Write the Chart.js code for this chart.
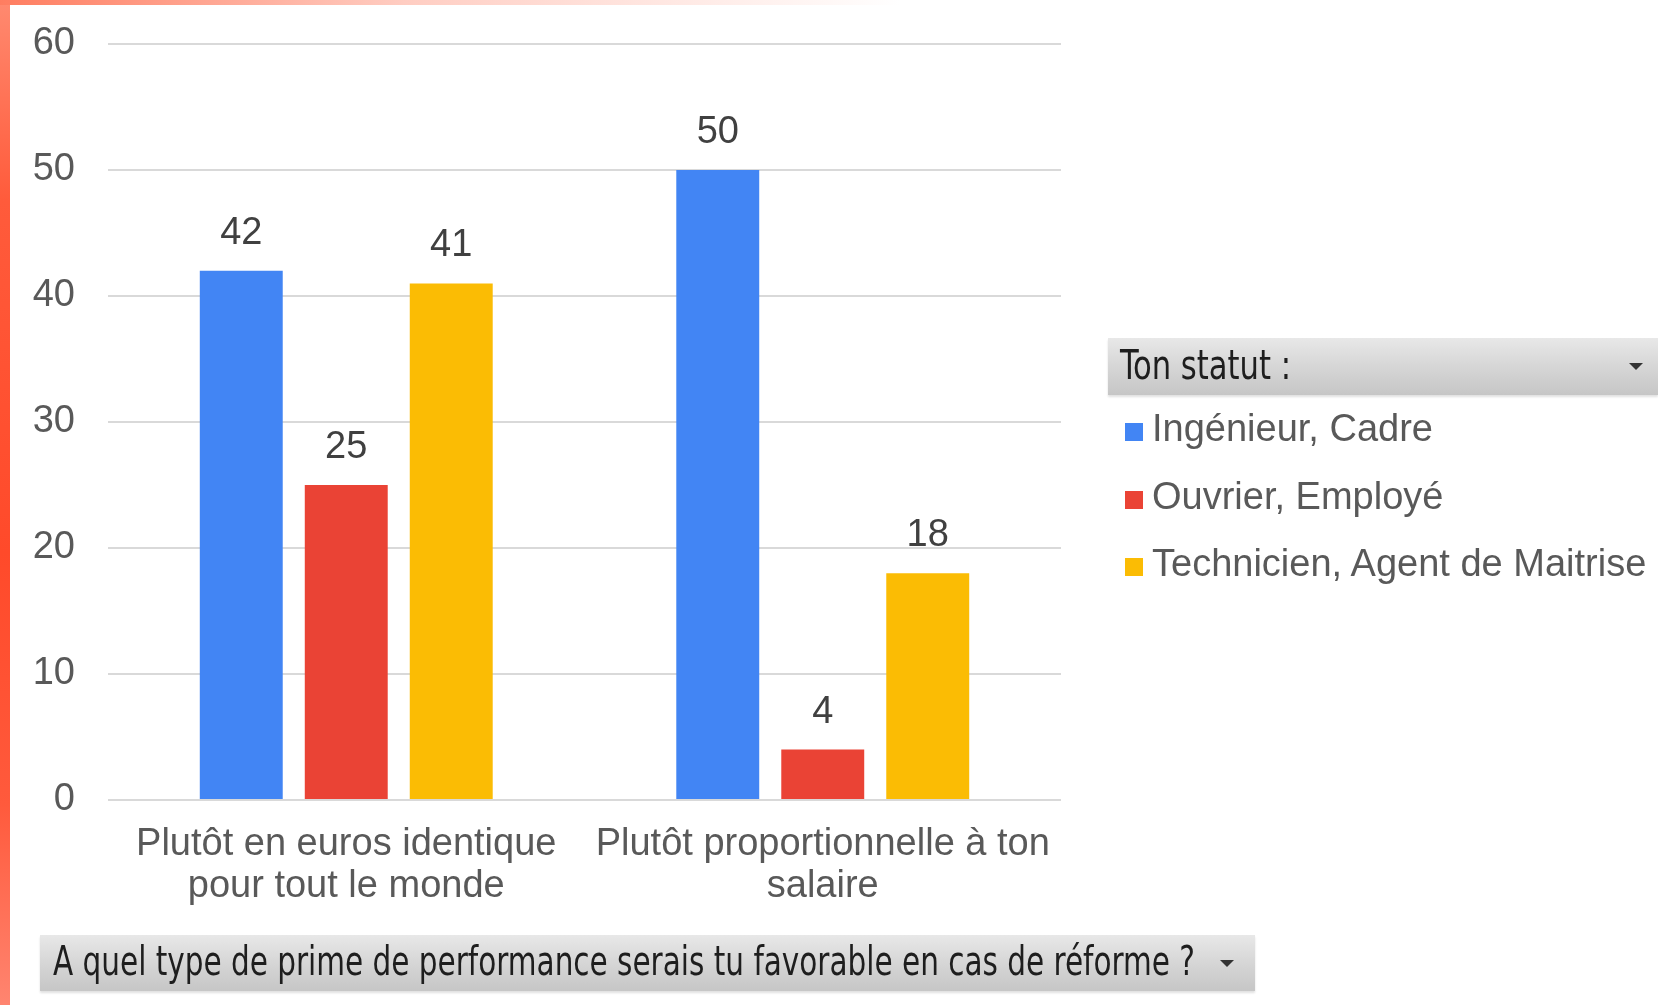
<!DOCTYPE html>
<html>
<head>
<meta charset="utf-8">
<script src="https://cdn.jsdelivr.net/npm/chart.js@4"></script>
<style>
    body { margin: 0; background: #fff; width: 1658px; height: 1005px; overflow: hidden; position: relative; }
    #chart { position: absolute; left: 0; top: 0; }
    .edge-left { position: absolute; left: 0; top: 0; width: 10px; height: 1005px;
        background: linear-gradient(to bottom, #ff8a70 0%, #ff5b3b 20%, #ff4a2a 55%, #ff5a3c 80%, #ff8570 100%); }
    .edge-top { position: absolute; left: 0; top: 0; width: 900px; height: 5px;
        background: linear-gradient(to right, #ff7d60 0%, #ffcdc2 45%, #ffffff 100%); }
    .filter { position: absolute; background: linear-gradient(to bottom, #e8e8e8 0%, #d6d6d6 50%, #c6c6c6 100%);
        box-shadow: 0 2px 2px rgba(0,0,0,0.12); color: #1e1e1e; overflow: hidden; }
    .filter .txt { position: absolute; white-space: nowrap; transform-origin: left center;
        font-family: "Liberation Sans Narrow", "DejaVu Sans Condensed", "Liberation Sans", sans-serif; font-size: 40px; }
    .filter .tri { position: absolute; width: 0; height: 0; border-left: 7px solid transparent;
        border-right: 7px solid transparent; border-top: 7px solid #333; }
    .legend-item { position: absolute; left: 1125px; height: 44px; line-height: 44px; white-space: nowrap;
        font-family: "Liberation Sans", Arial, sans-serif; font-size: 38px; color: #595959; }
    .legend-item .sw { display: inline-block; width: 18px; height: 18px; margin-right: 9px; vertical-align: 0px; }
</style>
</head>
<body>
<canvas id="chart" width="1658" height="1005"></canvas>
<div class="edge-left"></div>
<div class="edge-top"></div>

<div class="filter" id="legendHead" style="left:1108px; top:338px; width:550px; height:57px;">
    <span class="txt" data-w="171" style="left:12px; top:4px;">Ton statut :</span>
    <span class="tri" style="left:521px; top:25px;"></span>
</div>
<div id="legend"></div>
<div class="filter" id="axisHead" style="left:40px; top:935px; width:1215px; height:56px;">
    <span class="txt" data-w="1142" style="left:13px; top:3px;">A quel type de prime de performance serais tu favorable en cas de réforme ?</span>
    <span class="tri" style="left:1180px; top:25px;"></span>
</div>

<script>
const categories = [
    ["Plutôt en euros identique", "pour tout le monde"],
    ["Plutôt proportionnelle à ton", "salaire"]
];
const seriesNames = ["Ingénieur, Cadre", "Ouvrier, Employé", "Technicien, Agent de Maitrise"];
const ingenieurCadre = [42, 50];
const ouvrierEmploye = [25, 4];
const technicienAgent = [41, 18];
const seriesColors = ["#4285f4", "#ea4335", "#fbbc04"];
const yTicks = [0, 10, 20, 30, 40, 50, 60];

const seriesData = [ingenieurCadre, ouvrierEmploye, technicienAgent];

// squeeze header texts to the width they take in the reference
document.querySelectorAll(".filter .txt").forEach(el => {
    const w = el.getBoundingClientRect().width;
    el.style.transform = `scaleX(${el.dataset.w / w})`;
});

// legend built from the series
const legendCenters = [428, 496, 563];
const legend = document.getElementById("legend");
seriesNames.forEach((name, i) => {
    const item = document.createElement("div");
    item.className = "legend-item";
    item.style.top = (legendCenters[i] - 22) + "px";
    item.innerHTML = `<span class="sw" style="background:${seriesColors[i]}"></span>${name}`;
    legend.appendChild(item);
});

const valueLabels = {
    id: "valueLabels",
    afterDatasetsDraw(chart) {
        const { ctx } = chart;
        ctx.save();
        ctx.font = "38px 'Liberation Sans', Arial, sans-serif";
        ctx.fillStyle = "#404040";
        ctx.textAlign = "center";
        ctx.textBaseline = "alphabetic";
        chart.data.datasets.forEach((ds, i) => {
            chart.getDatasetMeta(i).data.forEach((bar, j) => {
                ctx.fillText(String(ds.data[j]), bar.x, bar.y - 27);
            });
        });
        ctx.restore();
    }
};

const ctx = document.getElementById("chart").getContext("2d");

new Chart(ctx, {
    type: "bar",
    data: {
        labels: categories,
        datasets: seriesNames.map((name, i) => ({
            label: name,
            data: seriesData[i],
            backgroundColor: seriesColors[i],
            categoryPercentage: 0.661,
            barPercentage: 0.79,
        })),
    },
    options: {
        responsive: false,
        animation: false,
        layout: {
            padding: { left: 0, top: 44, right: 597, bottom: 85 },
        },
        plugins: {
            legend: { display: false },
            tooltip: { enabled: false },
        },
        scales: {
            y: {
                min: 0,
                max: 60,
                afterFit: (s) => { s.width = 108; s.paddingTop = 0; s.paddingBottom = 0; },
                afterBuildTicks: (s) => { s.ticks = yTicks.map(v => ({ value: v })); },
                border: { display: false },
                grid: { color: "#d9d9d9", lineWidth: 2, drawTicks: false },
                ticks: {
                    padding: 33,
                    color: "#595959",
                    font: { family: "'Liberation Sans', Arial, sans-serif", size: 38 },
                },
            },
            x: {
                afterFit: (s) => { s.height = 120; s.paddingLeft = 0; s.paddingRight = 0; },
                border: { display: false },
                grid: { display: false, drawTicks: false },
                ticks: {
                    padding: 23,
                    maxRotation: 0,
                    autoSkip: false,
                    color: "#595959",
                    font: { family: "'Liberation Sans', Arial, sans-serif", size: 38, lineHeight: 1.11 },
                },
            },
        },
    },
    plugins: [valueLabels],
});
</script>
</body>
</html>
